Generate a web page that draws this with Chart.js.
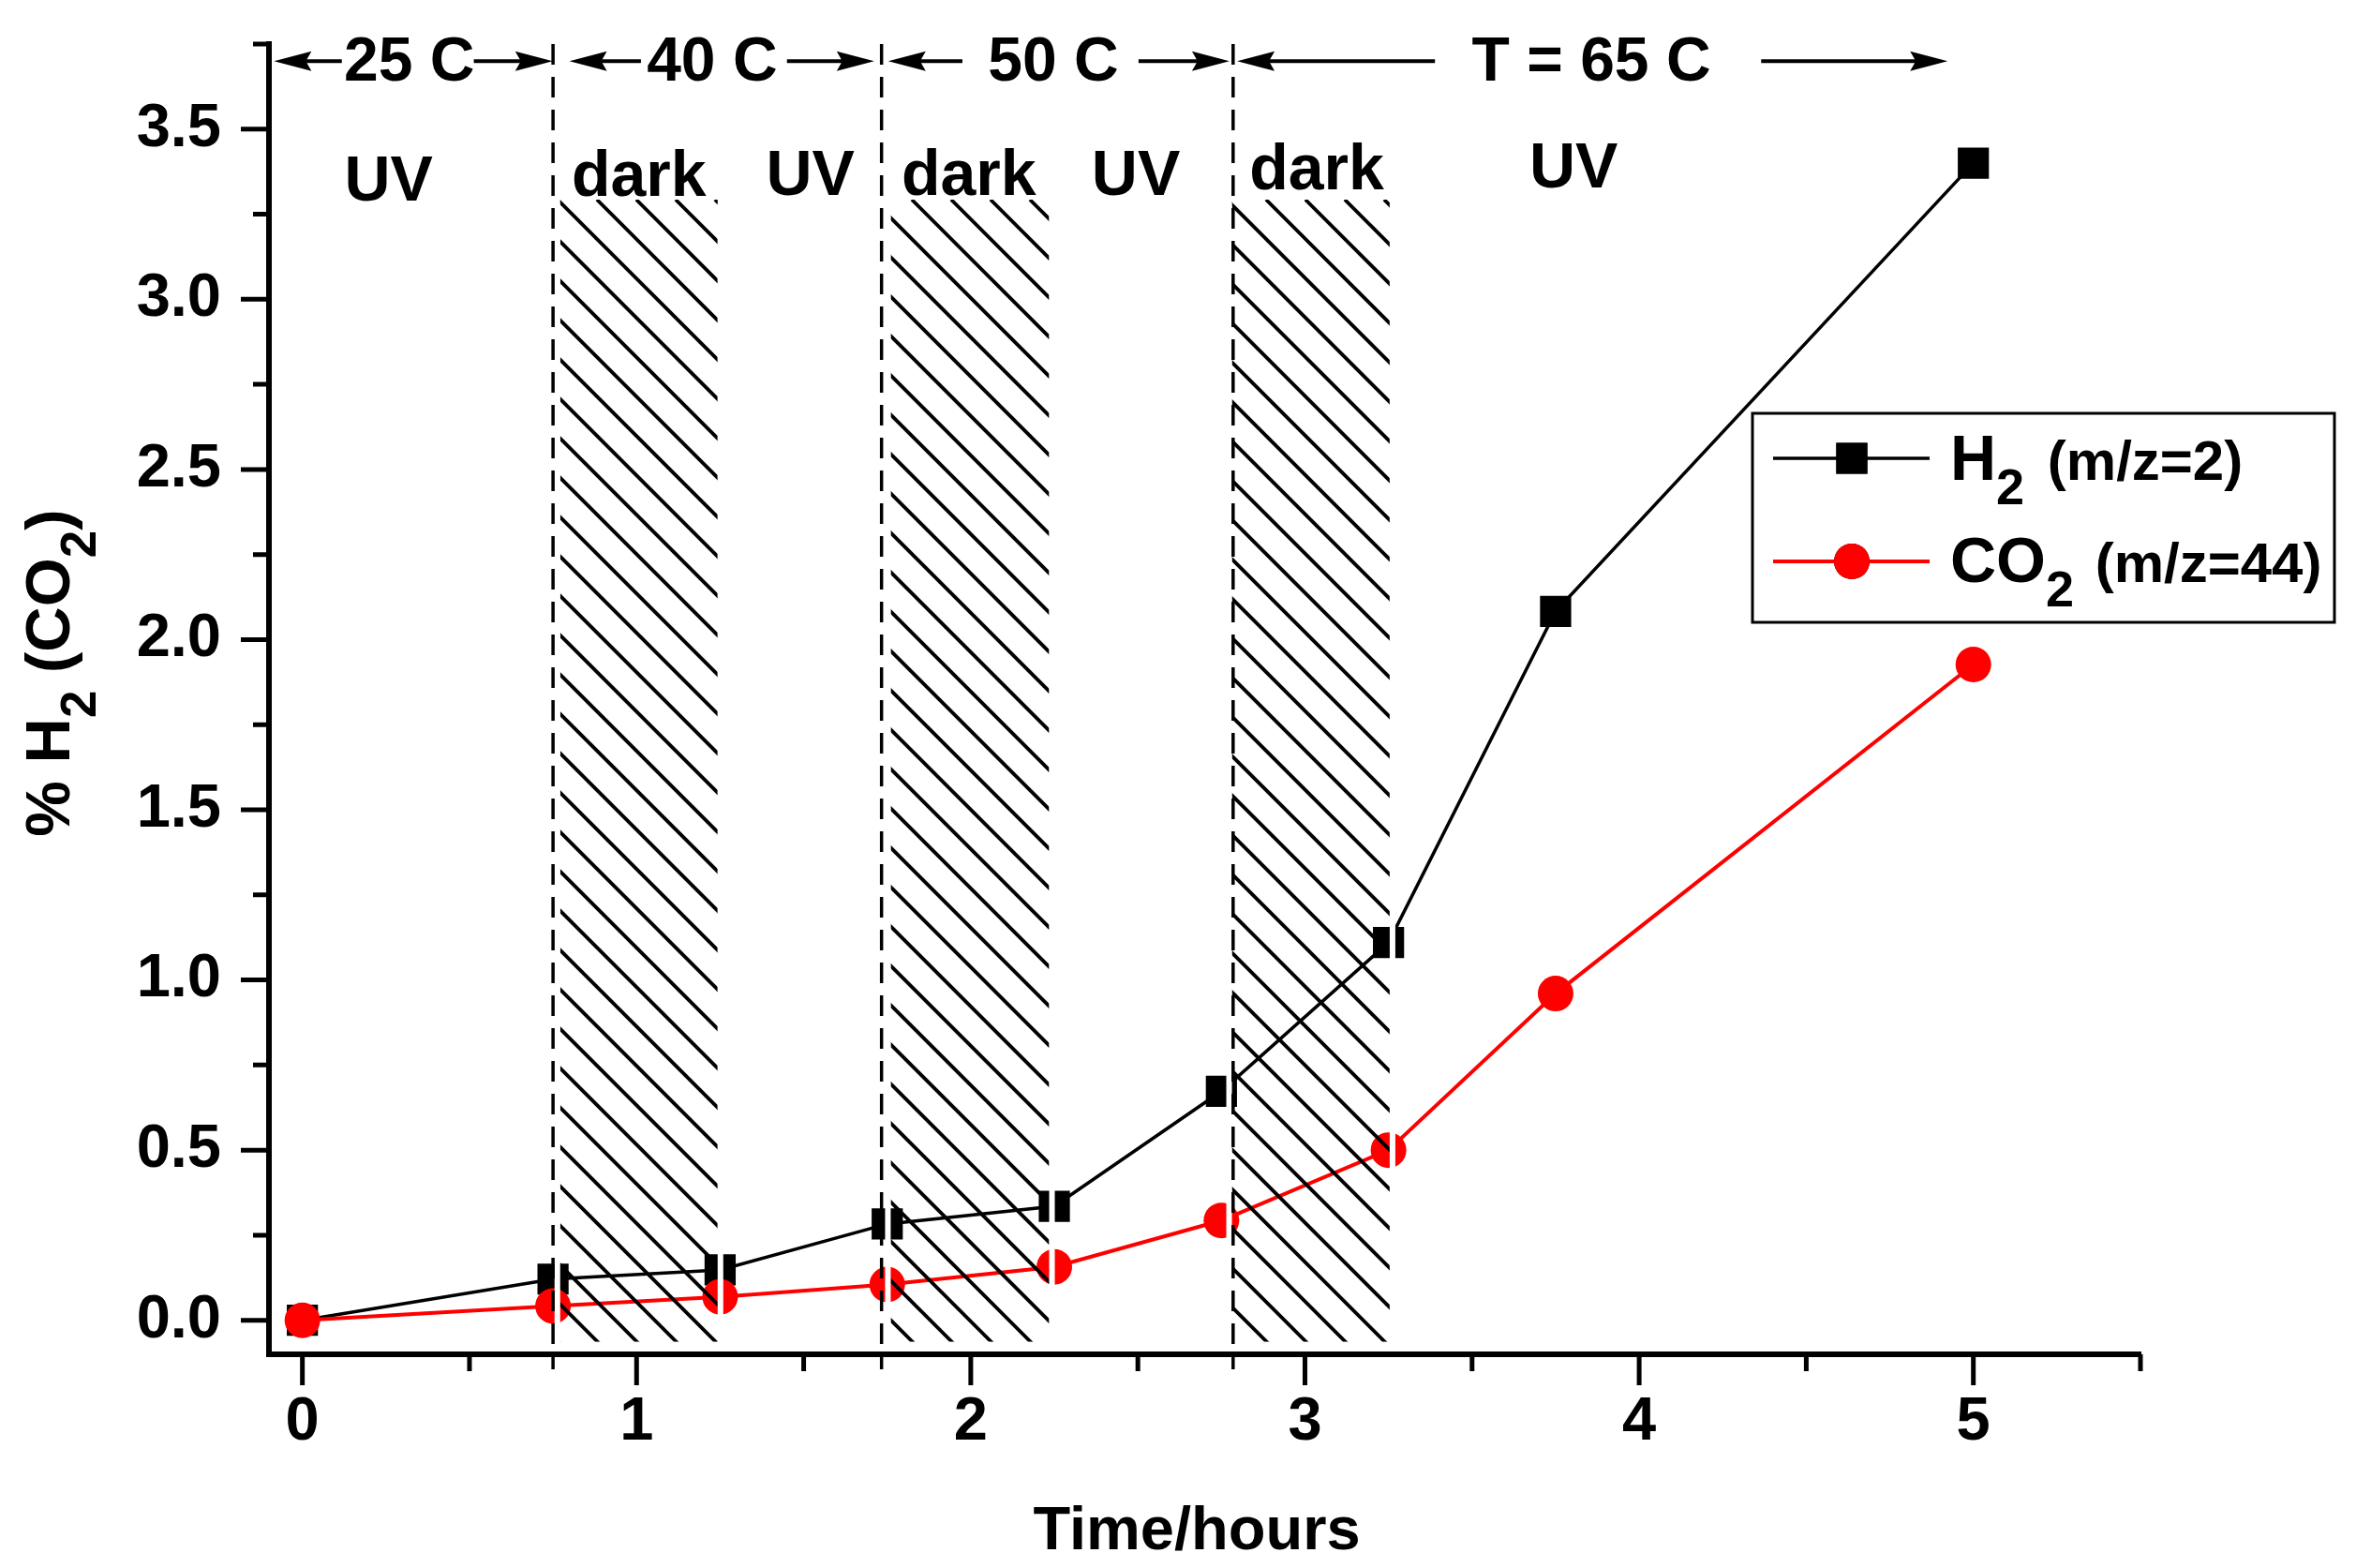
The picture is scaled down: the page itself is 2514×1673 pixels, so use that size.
<!DOCTYPE html>
<html>
<head>
<meta charset="utf-8">
<title>H2 / CO2 evolution</title>
<script src="https://cdn.jsdelivr.net/npm/chart.js@4.4.1/dist/chart.umd.min.js"></script>
<style>
  html, body { margin: 0; padding: 0; background: #fff; }
  #box { width: 2514px; height: 1673px; }
</style>
</head>
<body>
<div id="box"><canvas id="gas-chart"></canvas></div>
<script>
// measured points
const timeHours = [0, 0.75, 1.25, 1.75, 2.25, 2.75, 3.25, 3.75, 5];
const h2Percent = [0, 0.121, 0.148, 0.283, 0.335, 0.673, 1.11, 2.083, 3.40];
const co2Percent = [0, 0.042, 0.069, 0.105, 0.157, 0.293, 0.50, 0.96, 1.927];

const xTickValues = [0, 1, 2, 3, 4, 5];
const xTickLabels = ['0', '1', '2', '3', '4', '5'];
const xMinorTicks = [0.5, 1.5, 2.5, 3.5, 4.5, 5.5];
const yTickValues = [0, 0.5, 1, 1.5, 2, 2.5, 3, 3.5];
const yTickLabels = ['0.0', '0.5', '1.0', '1.5', '2.0', '2.5', '3.0', '3.5'];
const yMinorTicks = [0.25, 0.75, 1.25, 1.75, 2.25, 2.75, 3.25, 3.75];

// temperature steps and dark (hatched) periods, in hours
const stepStarts = [0.75, 1.733, 2.785];
const darkStart = [0.763, 1.752, 2.773];
const darkEnd = [1.251, 2.243, 3.262];
const tempLabels = ['25 C', '40 C', '50 C', 'T = 65 C'];
const lightLabels = ['UV', 'dark', 'UV', 'dark', 'UV', 'dark', 'UV'];

// where the annotations sit, in axis units
const tempLabelX = [0.32, 1.226, 2.247, 3.857];
const tempArrowY = 3.70;
const tempArrows = [   // left tip, left tail, right tail, right tip
  [-0.085, 0.118, 0.513, 0.749],
  [0.799, 1.013, 1.45, 1.711],
  [1.753, 1.975, 2.502, 2.774],
  [2.797, 3.389, 4.365, 4.923]
];
const lightLabelX = [0.258, 1.007, 1.52, 1.994, 2.494, 3.035, 3.804];
const lightLabelY = [3.29, 3.304, 3.307, 3.307, 3.307, 3.323, 3.329];
const hatchTop = 3.293;
const hatchBottom = -0.072;

const FAMILY = "'Liberation Sans', Arial, sans-serif";
const font = (size) => `bold ${size}px ${FAMILY}`;

function arrow(ctx, from, to, yy) {
    const dir = Math.sign(to - from);
    ctx.lineWidth = 4;
    ctx.beginPath();
    ctx.moveTo(from, yy);
    ctx.lineTo(to - dir * 30, yy);
    ctx.stroke();
    ctx.beginPath();
    ctx.moveTo(to, yy);
    ctx.lineTo(to - dir * 40, yy - 10.5);
    ctx.lineTo(to - dir * 34, yy);
    ctx.lineTo(to - dir * 40, yy + 10.5);
    ctx.closePath();
    ctx.fill();
}

// text with subscripts: parts = [text, size, baseline shift, extra gap]
function drawRich(ctx, parts, x0, baseline) {
    let cx = x0;
    parts.forEach(([t, size, dy, gap]) => {
        ctx.font = font(size);
        ctx.fillText(t, cx, baseline + dy);
        cx += ctx.measureText(t).width + (gap || 0);
    });
    return cx - x0;
}
function richWidth(ctx, parts) {
    let w = 0;
    parts.forEach(([t, size, dy, gap]) => {
        ctx.font = font(size);
        w += ctx.measureText(t).width + (gap || 0);
    });
    return w;
}

const decorations = {
    id: 'decorations',
    afterDatasetsDraw(chart) {
        const {ctx, chartArea, scales: {x, y}} = chart;
        ctx.save();

        // hatched dark periods
        const top = y.getPixelForValue(hatchTop);
        const bottom = y.getPixelForValue(hatchBottom);
        darkStart.forEach((a, i) => {
            const left = x.getPixelForValue(a);
            const right = x.getPixelForValue(darkEnd[i]);
            ctx.save();
            ctx.beginPath();
            ctx.rect(left + 3, top, right - left - 6, bottom - top - 3);
            ctx.clip();
            ctx.strokeStyle = '#000';
            ctx.lineWidth = 3.8;
            ctx.beginPath();
            const start = Math.floor((left - bottom - 4) / 42) * 42 + 4;
            for (let d = start; d < right - top; d += 42) {
                ctx.moveTo(top + d, top);
                ctx.lineTo(bottom + d, bottom);
            }
            ctx.stroke();
            ctx.restore();
            ctx.strokeStyle = '#fff';
            ctx.lineWidth = 6;
            ctx.beginPath();
            ctx.moveTo(left, top + 4);
            ctx.lineTo(left, bottom);
            ctx.lineTo(right, bottom);
            ctx.lineTo(right, top + 4);
            ctx.stroke();
        });

        // dashed temperature boundaries
        ctx.strokeStyle = '#000';
        ctx.lineWidth = 3.5;
        ctx.setLineDash([22, 13]);
        stepStarts.forEach((v) => {
            const px = x.getPixelForValue(v);
            ctx.beginPath();
            ctx.moveTo(px, chartArea.top);
            ctx.lineTo(px, chartArea.bottom + 16);
            ctx.stroke();
        });
        ctx.setLineDash([]);

        // temperature labels with arrows
        ctx.fillStyle = '#000';
        ctx.textAlign = 'center';
        ctx.textBaseline = 'middle';
        const ay = y.getPixelForValue(tempArrowY);
        tempLabels.forEach((t, i) => {
            ctx.font = font(66);
            ctx.fillText(t, x.getPixelForValue(tempLabelX[i]), ay + 3);
            const [lt, ll, rl, rt] = tempArrows[i];
            arrow(ctx, x.getPixelForValue(ll), x.getPixelForValue(lt), ay);
            arrow(ctx, x.getPixelForValue(rl), x.getPixelForValue(rt), ay);
        });

        // UV / dark labels
        ctx.font = font(68);
        ctx.textBaseline = 'alphabetic';
        lightLabels.forEach((t, i) => {
            ctx.fillText(t, x.getPixelForValue(lightLabelX[i]), y.getPixelForValue(lightLabelY[i]));
        });

        // legend
        ctx.textAlign = 'left';
        ctx.strokeStyle = '#000';
        ctx.lineWidth = 3;
        ctx.strokeRect(1870, 441, 621, 223);
        const rows = [
            {ds: 0, y: 489, base: 512, parts: [['H', 68, 0], ['2', 54, 26, 8], [' (m/z=2)', 60, 0]]},
            {ds: 1, y: 599, base: 621, parts: [['CO', 68, 0], ['2', 54, 26, 6], [' (m/z=44)', 60, 0]]}
        ];
        rows.forEach((r) => {
            const ds = chart.data.datasets[r.ds];
            ctx.strokeStyle = ds.borderColor;
            ctx.lineWidth = ds.borderWidth;
            ctx.beginPath();
            ctx.moveTo(1892, r.y);
            ctx.lineTo(2059, r.y);
            ctx.stroke();
            Chart.helpers.drawPoint(ctx, {
                pointStyle: ds.pointStyle, radius: ds.pointRadius, borderWidth: 0, rotation: 0
            }, 1976, r.y);
            ctx.fillStyle = ds.backgroundColor;
            ctx.fill();
            ctx.fillStyle = '#000';
            drawRich(ctx, r.parts, 2081, r.base);
        });
        ctx.restore();
    },
    afterDraw(chart) {
        const {ctx, chartArea, scales: {x, y}} = chart;
        ctx.save();
        ctx.strokeStyle = '#000';
        ctx.lineWidth = 5;
        const bottom = chartArea.bottom;
        const left = chartArea.left;
        // tick marks, outward
        ctx.beginPath();
        xTickValues.forEach((v) => {
            const px = x.getPixelForValue(v);
            ctx.moveTo(px, bottom); ctx.lineTo(px, bottom + 33);
        });
        xMinorTicks.forEach((v) => {
            const px = x.getPixelForValue(v);
            ctx.moveTo(px, bottom); ctx.lineTo(px, bottom + 18);
        });
        yTickValues.forEach((v) => {
            const py = y.getPixelForValue(v);
            ctx.moveTo(left, py); ctx.lineTo(left - 30, py);
        });
        yMinorTicks.forEach((v) => {
            const py = y.getPixelForValue(v);
            ctx.moveTo(left, py); ctx.lineTo(left - 17, py);
        });
        ctx.stroke();

        // axis titles
        ctx.fillStyle = '#000';
        ctx.textAlign = 'center';
        ctx.textBaseline = 'alphabetic';
        ctx.font = font(65);
        ctx.fillText('Time/hours', 1277, 1653);

        const yTitle = [['% H', 67, 0], ['2', 53, 28], [' (CO', 67, 0], ['2', 53, 28], [')', 67, 0]];
        ctx.textAlign = 'left';
        const w = richWidth(ctx, yTitle);
        ctx.translate(74, 718);
        ctx.rotate(-Math.PI / 2);
        drawRich(ctx, yTitle, -w / 2, 0);
        ctx.restore();
    }
};

const ctx = document.getElementById('gas-chart');

new Chart(ctx, {
    type: 'line',
    data: {
        datasets: [
            {
                label: 'H₂ (m/z=2)',
                data: timeHours.map((t, i) => ({x: t, y: h2Percent[i]})),
                borderColor: '#000000',
                backgroundColor: '#000000',
                borderWidth: 3.5,
                pointStyle: 'rect',
                pointRadius: 23.5,
                pointBorderWidth: 0,
                order: 1
            },
            {
                label: 'CO₂ (m/z=44)',
                data: timeHours.map((t, i) => ({x: t, y: co2Percent[i]})),
                borderColor: '#ff0000',
                backgroundColor: '#ff0000',
                borderWidth: 4,
                pointStyle: 'circle',
                pointRadius: 19,
                pointBorderWidth: 0,
                order: 0
            }
        ]
    },
    options: {
        responsive: true,
        maintainAspectRatio: false,
        animation: false,
        events: [],
        layout: {padding: {top: 47, right: 230, left: 0, bottom: 0}},
        plugins: {legend: {display: false}, tooltip: {enabled: false}},
        scales: {
            x: {
                type: 'linear',
                min: -0.1,
                max: 5.5,
                grid: {display: false, drawTicks: false},
                border: {display: true, width: 6, color: '#000'},
                afterBuildTicks: (axis) => {
                    axis.ticks = xTickValues.map((v) => ({value: v}));
                },
                afterFit: (axis) => {
                    axis.height = 228;
                    axis.paddingLeft = 0;
                    axis.paddingRight = 0;
                },
                ticks: {
                    autoSkip: false,
                    maxRotation: 0,
                    padding: 34,
                    color: '#000',
                    font: {family: FAMILY, size: 65, weight: 'bold'},
                    callback: (v) => {
                        const i = xTickValues.indexOf(v);
                        return i < 0 ? '' : xTickLabels[i];
                    }
                }
            },
            y: {
                min: -0.1,
                max: 3.75,
                grid: {display: false, drawTicks: false},
                border: {display: true, width: 6, color: '#000'},
                afterBuildTicks: (axis) => {
                    axis.ticks = yTickValues.map((v) => ({value: v}));
                },
                afterFit: (axis) => {
                    axis.width = 287;
                    axis.paddingTop = 0;
                    axis.paddingBottom = 0;
                },
                ticks: {
                    autoSkip: false,
                    padding: 51,
                    color: '#000',
                    font: {family: FAMILY, size: 65, weight: 'bold'},
                    callback: (v) => {
                        const i = yTickValues.indexOf(v);
                        return i < 0 ? '' : yTickLabels[i];
                    }
                }
            }
        }
    },
    plugins: [decorations]
});
</script>
</body>
</html>
